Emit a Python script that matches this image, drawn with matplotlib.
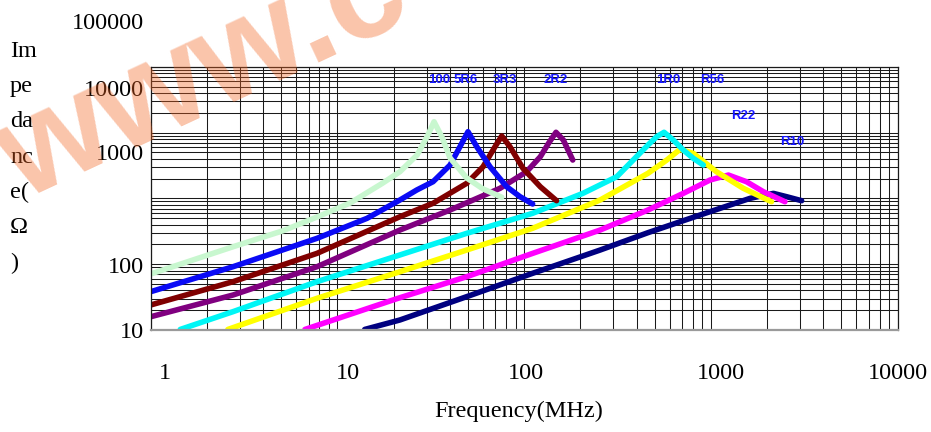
import matplotlib
matplotlib.use("Agg")
import matplotlib.pyplot as plt
import matplotlib.transforms as mtransforms

# impedance curves (MHz, ohm)
freq_100 = [1.0, 2.76, 5.11, 7.77, 11.7, 17.5, 21.6, 26.7, 30.2, 32.9, 36.2, 40.1, 49.2, 60.2, 75.8]
imp_100 = [71, 184, 322, 521, 850, 1710, 2540, 4550, 8640, 14600, 8640, 4100, 2040, 1390, 1040]

freq_5r6 = [1.0, 2.76, 7.77, 14.4, 21.6, 26.6, 32.5, 40.1, 45.3, 50.0, 55.7, 65.6, 80.6, 95.0, 111]
imp_5r6 = [38.2, 91.5, 247, 497, 944, 1340, 1790, 3210, 6090, 10290, 6090, 3020, 1500, 1060, 820]

freq_3r3 = [1.0, 2.76, 7.77, 21.6, 32.5, 49.2, 60.2, 69.8, 75.8, 83.9, 98.5, 122, 149]
imp_3r3 = [24.0, 54.2, 146, 526, 841, 1690, 3020, 6090, 8850, 6090, 2860, 1500, 921]

freq_2r2 = [1.0, 2.76, 7.77, 21.6, 40.1, 74.2, 103, 122, 135, 148, 162, 182]
imp_2r2 = [15.9, 34.0, 91.5, 330, 665, 1420, 2540, 4290, 6860, 10080, 7700, 3820]

freq_1r0 = [1.44, 2.76, 7.77, 21.6, 49.2, 111, 206, 313, 460, 512, 561, 628, 711, 804, 910]
imp_1r0 = [10.2, 19.0, 54.2, 138, 294, 593, 1190, 2130, 6460, 8640, 10080, 7700, 5420, 4060, 3210]

freq_r56 = [2.59, 7.77, 21.6, 49.2, 111, 255, 460, 580, 683, 804, 1070, 1490, 2110]
imp_r56 = [10.2, 30.3, 76.8, 164, 351, 944, 2400, 3820, 5560, 4830, 2540, 1420, 889]

freq_r22 = [6.70, 21.1, 49.2, 111, 255, 460, 711, 989, 1240, 1550, 1910, 2490]
imp_r22 = [10.2, 30.3, 64.5, 146, 330, 665, 1190, 1900, 2260, 1790, 1260, 889]

freq_r10 = [14.0, 21.6, 49.2, 111, 255, 460, 874, 1620, 2160, 2540, 3060]
imp_r10 = [10.2, 14.2, 32.1, 72.7, 164, 301, 558, 1000, 1190, 1060, 921]

part_names = ["100", "5R6", "3R3", "2R2", "1R0", "R56", "R22", "R10"]
xtick_vals = [1, 10, 100, 1000, 10000]
xtick_labels = ["1", "10", "100", "1000", "10000"]
ytick_vals = [10, 100, 1000, 10000, 100000]
ytick_labels = ["10", "100", "1000", "10000", "100000"]

series = [
    (freq_100, imp_100, "#c8f7cf"),
    (freq_5r6, imp_5r6, "#0a0af5"),
    (freq_3r3, imp_3r3, "#800000"),
    (freq_2r2, imp_2r2, "#800080"),
    (freq_1r0, imp_1r0, "#00f5f5"),
    (freq_r56, imp_r56, "#ffff00"),
    (freq_r22, imp_r22, "#ff00ff"),
    (freq_r10, imp_r10, "#000080"),
]
# where the part names sit
name_x = [35.0, 48.8, 78.9, 148, 589, 1013, 1494, 2733]
name_y = [62800, 62800, 62800, 62800, 62800, 62800, 18000, 7250]

serif = "Liberation Serif"

fig = plt.figure(figsize=(9.31, 4.32), dpi=100)
ax = fig.add_axes([150.7 / 931, 102 / 432, 747 / 931, 263.3 / 432])

# drawn last-to-first so the light green one ends on top
for f, z, c in reversed(series):
    ax.plot(f, z, color=c, lw=4, solid_capstyle="round", solid_joinstyle="round")

ax.set_xscale("log")
ax.set_yscale("log")
ax.set_xlim(1, 10000)
ax.set_ylim(10, 100000)

ax.grid(True, which="both", color="#1a1a1a", lw=0.75)
ax.set_axisbelow(True)
ax.tick_params(which="both", length=0)
ax.minorticks_on()
ax.tick_params(which="minor", labelleft=False, labelbottom=False)

for s in ["top", "left", "right"]:
    ax.spines[s].set_color("#1a1a1a")
    ax.spines[s].set_linewidth(0.9)
ax.spines["bottom"].set_color("#9a9a9a")
ax.spines["bottom"].set_linewidth(1.6)

ax.set_xticks(xtick_vals)
ax.set_xticklabels(xtick_labels, fontfamily=serif, fontsize=17.5)
ax.set_yticks(ytick_vals)
ax.set_yticklabels(ytick_labels, fontfamily=serif, fontsize=17.5)
ax.tick_params(axis="x", pad=24)
ax.tick_params(axis="y", pad=5)

# the labels in the original are nudged off their grid lines
x_shift = [14, 10, 2, 10, 0]
y_shift = [0, -1, 46, 45, 46]
for lab, dx in zip(ax.get_xticklabels(), x_shift):
    lab.set_transform(lab.get_transform() + mtransforms.ScaledTranslation(dx / 100, 0, fig.dpi_scale_trans))
for lab, dy in zip(ax.get_yticklabels(), y_shift):
    lab.set_transform(lab.get_transform() + mtransforms.ScaledTranslation(0, dy / 100, fig.dpi_scale_trans))

for name, x, y in zip(part_names, name_x, name_y):
    ax.text(x, y, name, color="#1616ff", fontsize=9.5, fontweight="bold",
            fontfamily="Liberation Sans", ha="center", va="center")

fig.text(519 / 931, 1 - 411 / 432, "Frequency(MHz)", fontfamily=serif, fontsize=17.5,
         ha="center", va="center")
fig.text(10 / 931, 1 - 41 / 432, "Im\npe\nda\nnc\ne(\n\u03a9\n)", fontfamily=serif,
         fontsize=17.5, ha="left", va="top", linespacing=1.89)

# watermark
fig.text(22 / 931, 1 - 201 / 432, "www.c", fontfamily="Liberation Sans", fontweight="bold",
         fontsize=100, color="#f26522", alpha=0.38, rotation=25, rotation_mode="anchor",
         ha="left", va="baseline", zorder=10)

fig.savefig("out.png", dpi=100)
